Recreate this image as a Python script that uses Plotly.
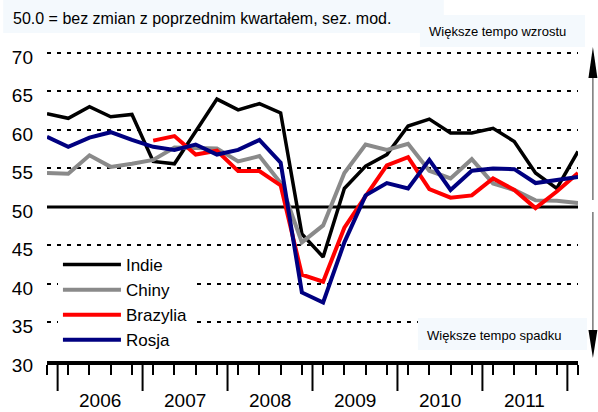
import plotly.graph_objects as go

# ---------------- data ----------------
quarters = ["2005Q4",
            "2006Q1", "2006Q2", "2006Q3", "2006Q4",
            "2007Q1", "2007Q2", "2007Q3", "2007Q4",
            "2008Q1", "2008Q2", "2008Q3", "2008Q4",
            "2009Q1", "2009Q2", "2009Q3", "2009Q4",
            "2010Q1", "2010Q2", "2010Q3", "2010Q4",
            "2011Q1", "2011Q2", "2011Q3", "2011Q4",
            "2012Q1"]
years = ["2006", "2007", "2008", "2009", "2010", "2011"]

indie = [62.1, 61.5, 63.0, 61.7, 62.0, 55.9, 55.6, 59.9, 64.0, 62.6, 63.4, 62.2, 46.5,
         43.5, 52.4, 55.3, 56.8, 60.5, 61.4, 59.6, 59.6, 60.2, 58.5, 54.4, 52.4, 57.2]
chiny = [54.4, 54.3, 56.7, 55.2, 55.6, 56.1, 57.7, 57.7, 57.6, 55.9, 56.6, 53.1, 45.4,
         47.6, 54.4, 58.1, 57.4, 58.2, 54.7, 53.7, 56.2, 53.05, 52.2, 50.85, 50.8, 50.5]
brazylia = [None, None, None, None, None, 58.6, 59.2, 56.8, 57.3, 54.65, 54.65, 52.8, 41.2,
            40.3, 47.3, 51.4, 55.4, 56.45, 52.3, 51.2, 51.5, 53.7, 52.2, 49.85, 52.0, 54.4]
rosja = [59.1, 57.8, 59.0, 59.7, 58.7, 57.8, 57.4, 58.1, 56.8, 57.4, 58.7, 55.75, 38.9,
         37.6, 45.4, 51.5, 53.1, 52.4, 56.1, 52.2, 54.7, 55.0, 54.9, 53.1, 53.5, 53.9]

series_names = ["Indie", "Chiny", "Brazylia", "Rosja"]
series_values = [indie, chiny, brazylia, rosja]
series_colors = ["#000000", "#8a8a8a", "#ff0000", "#000080"]
series_widths = [3.5, 4, 4, 4]

y_ticks = [30, 35, 40, 45, 50, 55, 60, 65, 70]

# ---------------- layout geometry ----------------
W_FIG, H_FIG = 598, 412
L, T = 44, 49
PW, PH = 534, 312          # plot width / height in px
R = W_FIG - L - PW
B = H_FIG - T - PH

def px2x(px):
    return (px - L) / PW

def py2y(py):
    return (T + PH - py) / PH

FONT = "Liberation Sans, Arial, sans-serif"

xs = list(range(len(quarters)))

fig = go.Figure()
for name, vals, col, w in zip(series_names, series_values, series_colors, series_widths):
    fig.add_trace(go.Scatter(
        x=xs, y=vals, name=name, mode="lines",
        line=dict(color=col, width=w),
        text=quarters, hovertemplate="%{text}: %{y}<extra>" + name + "</extra>",
    ))

shapes = []
# solid line at 50
shapes.append(dict(type="line", xref="paper", yref="y", x0=0, x1=1, y0=50, y1=50,
                   line=dict(color="black", width=3), layer="below"))
# tall year-separator ticks
for k in range(len(years) + 1):
    xv = 0.5 + 4 * k
    shapes.append(dict(type="line", xref="x", yref="paper", x0=xv, x1=xv,
                       y0=py2y(361), y1=py2y(391), line=dict(color="black", width=2)))

# light text boxes
BOX = "#f4f9fd"
shapes.append(dict(type="rect", xref="paper", yref="paper", x0=px2x(0), x1=px2x(443),
                   y0=py2y(33), y1=py2y(0), fillcolor=BOX, line=dict(width=0), layer="below"))
shapes.append(dict(type="rect", xref="paper", yref="paper", x0=px2x(419), x1=px2x(585),
                   y0=py2y(47), y1=py2y(15), fillcolor=BOX, line=dict(width=0), layer="below"))
shapes.append(dict(type="rect", xref="paper", yref="paper", x0=px2x(417), x1=px2x(587),
                   y0=py2y(350), y1=py2y(318), fillcolor=BOX, line=dict(width=0), layer="above"))

# vertical arrows on the right
AX = 593
shapes.append(dict(type="line", xref="paper", yref="paper", x0=px2x(AX), x1=px2x(AX),
                   y0=py2y(75), y1=py2y(200), line=dict(color="#333333", width=1)))
shapes.append(dict(type="line", xref="paper", yref="paper", x0=px2x(AX), x1=px2x(AX),
                   y0=py2y(212), y1=py2y(335), line=dict(color="#333333", width=1)))
def tri(tip_y, base_y):
    return ("M {a},{b} L {c},{d} L {e},{f} Z".format(
        a=px2x(AX), b=py2y(tip_y), c=px2x(AX - 4.5), d=py2y(base_y),
        e=px2x(AX + 4.5), f=py2y(base_y)))
shapes.append(dict(type="path", xref="paper", yref="paper", path=tri(47, 78),
                   fillcolor="black", line=dict(width=0)))
shapes.append(dict(type="path", xref="paper", yref="paper", path=tri(358, 330),
                   fillcolor="black", line=dict(width=0)))

annotations = []
annotations.append(dict(text="50.0 = bez zmian z poprzednim kwartałem, sez. mod.",
                        xref="paper", yref="paper", x=px2x(8), y=py2y(19),
                        xanchor="left", yanchor="middle", showarrow=False,
                        font=dict(family=FONT, size=16, color="black")))
annotations.append(dict(text="Większe tempo wzrostu", xref="paper", yref="paper",
                        x=px2x(497), y=py2y(32), xanchor="center", yanchor="middle",
                        showarrow=False, font=dict(family=FONT, size=13, color="black")))
annotations.append(dict(text="Większe tempo spadku", xref="paper", yref="paper",
                        x=px2x(494), y=py2y(335), xanchor="center", yanchor="middle",
                        showarrow=False, font=dict(family=FONT, size=13, color="black")))
for k, yr in enumerate(years):
    annotations.append(dict(text=yr, xref="x", yref="paper", x=2.5 + 4 * k, y=py2y(400),
                            xanchor="center", yanchor="middle", showarrow=False,
                            font=dict(family=FONT, size=19, color="black")))

fig.update_layout(
    width=W_FIG, height=H_FIG,
    margin=dict(l=L, r=R, t=T, b=B, pad=0),
    paper_bgcolor="white", plot_bgcolor="white",
    showlegend=True,
    legend=dict(x=px2x(55), y=py2y(247), xanchor="left", yanchor="top",
                bgcolor="white", borderwidth=0, font=dict(family=FONT, size=17, color="black"),
                itemwidth=58, tracegroupgap=0),
    shapes=shapes, annotations=annotations,
    xaxis=dict(range=[0, 25], showgrid=False, zeroline=False,
               showline=True, linecolor="black", linewidth=3.5,
               tickmode="array", tickvals=xs, ticks="outside", ticklen=10,
               tickwidth=2, tickcolor="black", showticklabels=False, fixedrange=True),
    yaxis=dict(range=[30, 70.5], tickmode="array", tickvals=y_ticks,
               showgrid=True, gridcolor="black", gridwidth=1.5, griddash="4px,6px",
               zeroline=False, showline=False, ticks="",
               ticklabelstandoff=13, ticklabelshift=4,
               tickfont=dict(family=FONT, size=19, color="black"), fixedrange=True),
    hovermode="closest",
)

fig.write_html("out.html", config={"displayModeBar": False},
               post_script="document.body.style.margin='0px';")
